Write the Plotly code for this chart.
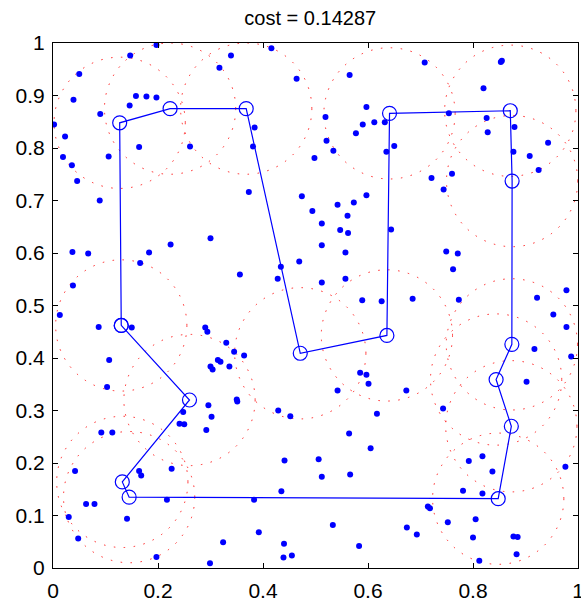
import plotly.graph_objects as go

# ---------------- data ----------------
title_text = "cost = 0.14287"

# tour nodes (in visiting order; the tour is closed)
node_x = [0.130, 0.260, 0.132, 0.145, 0.848, 0.873, 0.844, 0.874,
          0.8745, 0.871, 0.641, 0.636, 0.471, 0.368, 0.223, 0.127]
node_y = [0.462, 0.320, 0.164, 0.135, 0.132, 0.270, 0.359, 0.426,
          0.737, 0.871, 0.866, 0.443, 0.409, 0.875, 0.875, 0.848]
coverage_radius = 0.125

# scattered points
pts_x = [0.197, 0.147, 0.050, 0.317, 0.039, 0.158, 0.178, 0.197, 0.146, 0.090,
         0.002, 0.023, 0.164, 0.261, 0.019, 0.106, 0.036, 0.046, 0.089,
         0.339, 0.416, 0.464, 0.565, 0.597, 0.519, 0.590, 0.612, 0.632, 0.384,
         0.577, 0.381, 0.521, 0.534, 0.650, 0.635, 0.498, 0.373, 0.474, 0.597,
         0.542, 0.573, 0.494, 0.561,
         0.708, 0.855, 0.853, 0.820, 0.754, 0.826, 0.879, 0.828, 0.943, 0.877,
         0.908, 0.925, 0.721, 0.760, 0.744,
         0.037, 0.067, 0.183, 0.224, 0.300, 0.166, 0.038, 0.013, 0.087, 0.150,
         0.290, 0.294, 0.330, 0.107, 0.314, 0.319, 0.300, 0.304, 0.336, 0.103,
         0.512, 0.547, 0.562, 0.644, 0.512, 0.557, 0.469, 0.356, 0.434, 0.428,
         0.512, 0.557, 0.589, 0.626, 0.345, 0.364, 0.585, 0.597, 0.601, 0.542,
         0.673,
         0.749, 0.771, 0.762, 0.685, 0.773, 0.922, 0.978, 0.953, 0.978, 0.917,
         0.987, 0.902,
         0.296, 0.302, 0.248, 0.241, 0.250, 0.292, 0.092, 0.113, 0.042, 0.164,
         0.168, 0.226, 0.217, 0.063, 0.079, 0.030, 0.141, 0.048, 0.324, 0.197,
         0.299,
         0.350, 0.351, 0.429, 0.452, 0.617, 0.564, 0.605, 0.441, 0.506, 0.512,
         0.566, 0.435, 0.383, 0.533, 0.392, 0.674, 0.440, 0.583, 0.455, 0.439,
         0.743, 0.818, 0.792, 0.837, 0.976, 0.781, 0.818, 0.714, 0.718, 0.693,
         0.752, 0.805, 0.800, 0.877, 0.885, 0.883, 0.812]
pts_y = [0.996, 0.976, 0.941, 0.953, 0.892, 0.899, 0.898, 0.896, 0.881, 0.865,
         0.845, 0.822, 0.802, 0.803, 0.783, 0.784, 0.767, 0.737, 0.700,
         0.976, 0.990, 0.932, 0.939, 0.878, 0.859, 0.845, 0.849, 0.849, 0.839,
         0.828, 0.803, 0.814, 0.795, 0.804, 0.793, 0.781, 0.716, 0.708, 0.710,
         0.692, 0.696, 0.680, 0.671,
         0.963, 0.966, 0.964, 0.914, 0.866, 0.857, 0.840, 0.830, 0.810, 0.793,
         0.785, 0.758, 0.743, 0.751, 0.721,
         0.602, 0.599, 0.601, 0.616, 0.628, 0.581, 0.538, 0.482, 0.459, 0.458,
         0.458, 0.450, 0.429, 0.396, 0.396, 0.393, 0.384, 0.378, 0.384, 0.345,
         0.656, 0.644, 0.638, 0.645, 0.615, 0.601, 0.584, 0.559, 0.574, 0.551,
         0.544, 0.551, 0.510, 0.508, 0.412, 0.405, 0.372, 0.368, 0.351, 0.338,
         0.338,
         0.603, 0.599, 0.569, 0.513, 0.511, 0.515, 0.529, 0.483, 0.459, 0.417,
         0.403, 0.355,
         0.310, 0.288, 0.297, 0.275, 0.274, 0.263, 0.258, 0.258, 0.185, 0.185,
         0.176, 0.189, 0.130, 0.122, 0.122, 0.097, 0.094, 0.056, 0.049, 0.021,
         0.009,
         0.321, 0.317, 0.300, 0.289, 0.294, 0.256, 0.228, 0.205, 0.207, 0.174,
         0.178, 0.146, 0.130, 0.082, 0.068, 0.077, 0.046, 0.042, 0.024, 0.020,
         0.304, 0.213, 0.204, 0.184, 0.193, 0.147, 0.142, 0.117, 0.114, 0.064,
         0.087, 0.093, 0.058, 0.060, 0.059, 0.026, 0.014]

x_ticks = [0, 0.2, 0.4, 0.6, 0.8, 1]
x_tick_labels = ["0", "0.2", "0.4", "0.6", "0.8", "1"]
y_ticks = [0, 0.1, 0.2, 0.3, 0.4, 0.5, 0.6, 0.7, 0.8, 0.9, 1]
y_tick_labels = ["0", "0.1", "0.2", "0.3", "0.4", "0.5", "0.6", "0.7", "0.8", "0.9", "1"]

# ---------------- figure ----------------
BLUE = "rgb(0,0,255)"
FONT = "Liberation Sans, Arial, Helvetica, sans-serif"

fig = go.Figure()

fig.add_trace(go.Scatter(
    x=pts_x, y=pts_y, mode="markers",
    marker=dict(color=BLUE, size=6, line=dict(width=0)),
    hoverinfo="skip", showlegend=False))

tour_x = node_x + node_x[:1]
tour_y = node_y + node_y[:1]
fig.add_trace(go.Scatter(
    x=tour_x, y=tour_y, mode="lines+markers",
    line=dict(color=BLUE, width=1.2),
    marker=dict(symbol="circle-open", size=14, color=BLUE, line=dict(width=1.2)),
    hoverinfo="skip", showlegend=False))

shapes = []
for cx, cy in zip(node_x, node_y):
    shapes.append(dict(
        type="circle", xref="x", yref="y", layer="below",
        x0=cx - coverage_radius, x1=cx + coverage_radius,
        y0=cy - coverage_radius, y1=cy + coverage_radius,
        line=dict(color="rgba(255,0,0,0.85)", width=1, dash="1.5px,8.5px")))

axis_common = dict(
    showline=True, linecolor="black", linewidth=1, mirror="ticks",
    ticks="inside", ticklen=5, tickwidth=1, tickcolor="black",
    showgrid=False, zeroline=False, automargin=False,
    tickfont=dict(family=FONT, size=21, color="black"),
    ticklabeloverflow="allow", fixedrange=True)

fig.update_layout(
    width=581, height=602,
    margin=dict(l=53, r=3, t=43, b=34, pad=0),
    paper_bgcolor="white", plot_bgcolor="white",
    shapes=shapes,
    title=dict(text=title_text, x=0.49, xanchor="center", xref="paper",
               y=0.970, yanchor="middle", yref="container",
               font=dict(family=FONT, size=20, color="black")),
    xaxis=dict(range=[0, 1], tickmode="array", tickvals=x_ticks,
               ticktext=x_tick_labels, ticklabelstandoff=4, **axis_common),
    yaxis=dict(range=[0, 1], tickmode="array", tickvals=y_ticks,
               ticktext=y_tick_labels, ticklabelstandoff=3, **axis_common),
)

fig.write_html("out.html")
